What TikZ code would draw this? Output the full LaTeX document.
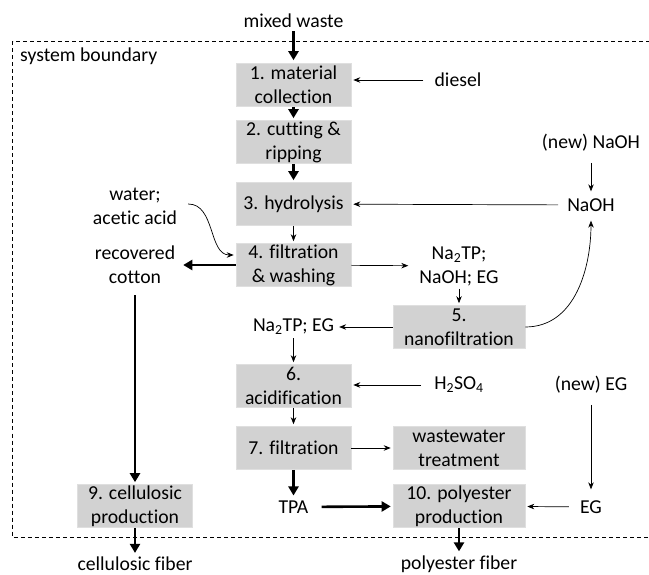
\documentclass[tikz,border=0pt]{standalone}
\usepackage{fontspec}
\setmainfont{Carlito}[Ligatures={NoCommon}]
\usetikzlibrary{arrows.meta}
\definecolor{boxgray}{RGB}{210,210,210}
\begin{document}
\begin{tikzpicture}[x=1pt,y=-1pt,
  font=\fontsize{19.7}{24}\selectfont,
  proc/.style={fill=boxgray, draw=boxgray!70!white, line width=0.6pt, minimum width=115pt, minimum height=43pt, align=center, inner sep=0pt},
  wide/.style={minimum width=132pt},
  lbl/.style={align=center, inner sep=3pt},
  thinarr/.style={-{Stealth[length=7pt,width=5.5pt]}, line width=0.7pt},
  heavyarr/.style={-{Triangle[length=9pt,width=10pt]}, line width=2.6pt},
  bound/.style={dash pattern=on 4pt off 3pt, line width=0.8pt},
]
\useasboundingbox (0,0) rectangle (649,575);
\draw[bound] (12.5,41.5) rectangle (665,537);

% process boxes
\node[proc] (b1) at (293.5,85) {1. material\\collection};
\node[proc] (b2) at (293.5,142) {2. cutting \&\\ripping};
\node[proc] (b3) at (293.5,204) {3. hydrolysis};
\node[proc] (b4) at (293.5,265) {4. filtration\\\& washing};
\node[proc,wide] (b5) at (459,327) {5.\\nanofiltration};
\node[proc] (b6) at (293.5,386) {6.\\acidification};
\node[proc] (b7) at (293.5,448) {7. filtration};
\node[proc,wide] (ww) at (459,448) {wastewater\\treatment};
\node[proc] (b9) at (135,506) {9. cellulosic\\production};
\node[proc,wide] (b10) at (459,506) {10. polyester\\production};

% labels
\node[lbl] (mw) at (293.5,21) {mixed waste};
\node[lbl,anchor=west] (sb) at (17,56) {system boundary};
\node[lbl] (diesel) at (458,80) {diesel};
\node[lbl] (newnaoh) at (591,143) {(new) NaOH};
\node[lbl] (naoh) at (591,205) {NaOH};
\node[lbl] (water) at (135,206) {water;\\acetic acid};
\node[lbl] (rc) at (135,265) {recovered\\cotton};
\node[lbl] (nt1) at (459,266) {Na\textsubscript{2}TP;\\NaOH; EG};
\node[lbl] (nt2) at (293.5,327) {Na\textsubscript{2}TP; EG};
\node[lbl] (h2so4) at (459,385) {H\textsubscript{2}SO\textsubscript{4}};
\node[lbl] (neweg) at (591,385) {(new) EG};
\node[lbl] (tpa) at (293.5,507) {TPA};
\node[lbl] (eg) at (591,507) {EG};
\node[lbl] (cf) at (135,564) {cellulosic fiber};
\node[lbl] (pf) at (459,564) {polyester fiber};

% heavy flows
\draw[heavyarr,shorten >=3pt] (mw) -- (b1);
\draw[heavyarr,shorten >=2pt] (b1) -- (b2);
\draw[heavyarr,shorten >=2pt] (b2) -- (b3);
\draw[heavyarr,shorten >=5pt] (b4) -- (rc);
\draw[heavyarr,shorten <=8pt,shorten >=2pt] (rc) -- (b9);
\draw[heavyarr,shorten >=2pt] (b7) -- (tpa);
\draw[heavyarr,shorten <=10pt,shorten >=2pt] (tpa) -- (b10);
\draw[heavyarr,shorten >=1pt] (b9) -- (cf);
\draw[heavyarr,shorten >=1pt] (b10) -- (pf);

% thin flows
\draw[thinarr,shorten <=8pt,shorten >=2pt] (diesel) -- (b1.east |- diesel);
\draw[thinarr,shorten <=8pt,shorten >=4pt] (newnaoh) -- (naoh);
\draw[thinarr,shorten <=6pt,shorten >=2pt] (naoh) -- (b3);
\draw[thinarr,shorten >=2pt] (b3) -- (b4);
\draw[thinarr,shorten >=2pt] ([xshift=8pt,yshift=2pt]water.east) to[out=0,in=180] ([yshift=10pt]b4.west);
\draw[thinarr,shorten >=8pt] (b4) -- (nt1);
\draw[thinarr,shorten >=2pt] (nt1) -- (b5);
\draw[thinarr,shorten >=2pt] (b5) -- (nt2);
\draw[thinarr,shorten >=6pt] (b5.east) to[out=0,in=-90] (naoh.south);
\draw[thinarr,shorten >=2pt] (nt2) -- (b6);
\draw[thinarr,shorten <=10pt,shorten >=2pt] (h2so4) -- (b6.east |- h2so4);
\draw[thinarr,shorten >=2pt] (b6) -- (b7);
\draw[thinarr,shorten >=2pt] (b7) -- (ww);
\draw[thinarr,shorten <=8pt,shorten >=8pt] (neweg) -- (eg);
\draw[thinarr,shorten <=8pt,shorten >=2pt] (eg) -- (b10);
\end{tikzpicture}
\end{document}
